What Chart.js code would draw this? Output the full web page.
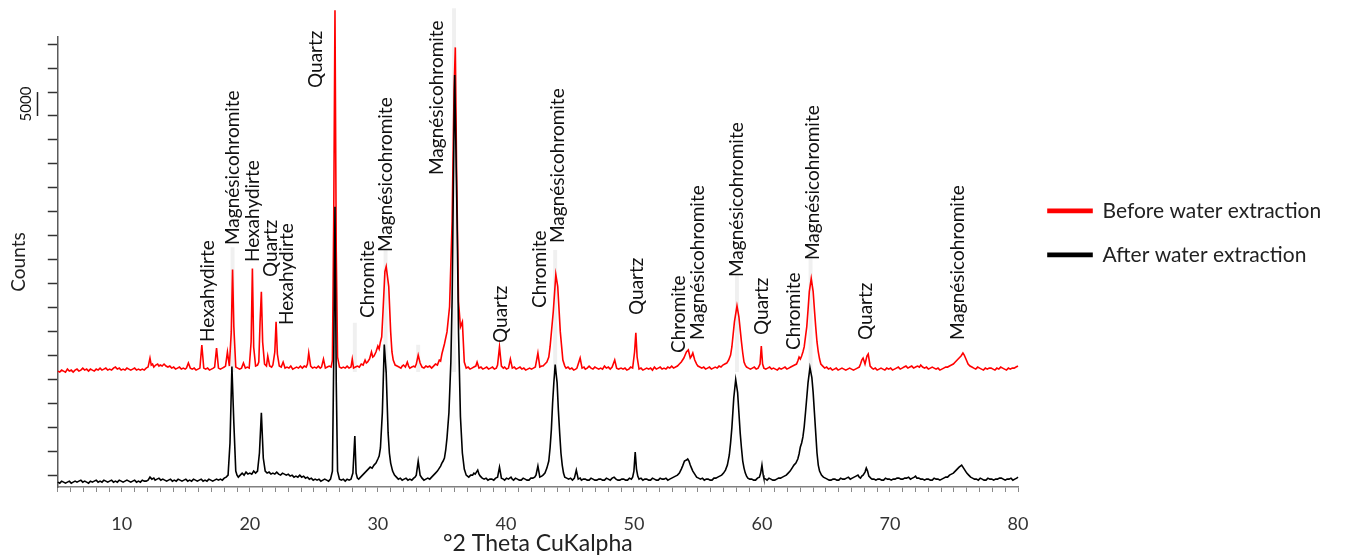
<!DOCTYPE html>
<html>
<head>
<meta charset="utf-8">
<script src="https://cdn.jsdelivr.net/npm/chart.js@4.4.1/dist/chart.umd.min.js"></script>
<style>
  html, body { margin: 0; padding: 0; background: #fff; }
  #wrap { width: 1347px; height: 560px; }
</style>
</head>
<body>
<div id="wrap"><canvas id="xrdChart"></canvas></div>
<script>
// scan data: [2theta, counts]
var beforeScan = [
  [5.0,1210],[5.15,1000],[5.3,1420],[5.45,1210],[5.6,1000],[5.75,1630],[5.9,1210],[6.05,1420],[6.2,1000],[6.35,1420],
  [6.5,1630],[6.65,1210],[6.8,1420],[6.95,1840],[7.1,1420],[7.25,1630],[7.4,1210],[7.55,1630],[7.7,1420],[7.85,1210],
  [8.0,1630],[8.15,1420],[8.3,1840],[8.45,1420],[8.6,1630],[8.75,1840],[8.9,1420],[9.05,1630],[9.2,1420],[9.35,1840],
  [9.5,2050],[9.65,1630],[9.8,1840],[9.95,1420],[10.1,1630],[10.25,1420],[10.4,1840],[10.55,1630],[10.7,1420],[10.85,1630],
  [11.0,1840],[11.15,1420],[11.3,1630],[11.45,1420],[11.6,1630],[11.75,1420],[11.9,1840],[12.05,2050],[12.2,3940],[12.3,2470],
  [12.4,2680],[12.5,2050],[12.65,2470],[12.8,2680],[12.9,2260],[13.0,2470],[13.15,2260],[13.3,2680],[13.45,2260],[13.6,2050],
  [13.75,2260],[13.9,1840],[14.05,2050],[14.2,1630],[14.35,1840],[14.5,2050],[14.65,1630],[14.8,1840],[14.95,1630],[15.05,1840],
  [15.2,2890],[15.35,1840],[15.5,1630],[15.65,1840],[15.8,1420],[15.95,1630],[16.1,1840],[16.25,6670],[16.4,1840],[16.55,1630],
  [16.7,1840],[16.85,1420],[17.0,1630],[17.15,1840],[17.25,2050],[17.4,6040],[17.55,1840],[17.7,1630],[17.85,1840],[18.0,2050],
  [18.1,2260],[18.25,5200],[18.4,2260],[18.55,9400],[18.65,22420],[18.75,10450],[18.9,2050],[19.05,1840],[19.2,1630],[19.35,1840],
  [19.5,2890],[19.65,1840],[19.8,2050],[19.95,1840],[20.1,7300],[20.2,22630],[20.3,6250],[20.45,2260],[20.6,2470],[20.7,3100],
  [20.8,11500],[20.9,17800],[21.0,7300],[21.15,2680],[21.3,2260],[21.4,4360],[21.55,2260],[21.7,2050],[21.8,2470],[21.95,5200],
  [22.05,11500],[22.15,4780],[22.3,2260],[22.45,2050],[22.6,3100],[22.75,1840],[22.9,2050],[23.05,1840],[23.2,2260],[23.35,1630],
  [23.5,1840],[23.65,2050],[23.8,1840],[23.95,2260],[24.1,1840],[24.25,2260],[24.4,2050],[24.5,2680],[24.6,4990],[24.75,2260],
  [24.9,1840],[25.05,2050],[25.2,1840],[25.35,2260],[25.5,1840],[25.6,2050],[25.75,3730],[25.9,1840],[26.05,2050],[26.2,2260],
  [26.35,2050],[26.45,3520],[26.55,32500],[26.65,76600],[26.75,26200],[26.85,4150],[27.0,2050],[27.15,1840],[27.3,2050],[27.45,1840],
  [27.6,2260],[27.75,1840],[27.9,2050],[28.0,3730],[28.1,1840],[28.25,2050],[28.4,2260],[28.55,2050],[28.7,2680],[28.85,2470],
  [29.0,3520],[29.1,2890],[29.2,3100],[29.35,3730],[29.5,5200],[29.6,4150],[29.7,4360],[29.85,5200],[30.0,6460],[30.1,5830],
  [30.2,7300],[30.3,8350],[30.4,13600],[30.55,22000],[30.65,23050],[30.75,20950],[30.85,18850],[31.0,9400],[31.1,5200],[31.2,3520],
  [31.35,2470],[31.5,2260],[31.65,2050],[31.8,1840],[31.9,2260],[32.0,2470],[32.15,2050],[32.3,3100],[32.4,2260],[32.5,1840],
  [32.65,2050],[32.8,2260],[32.9,2050],[33.0,2680],[33.15,4570],[33.3,2890],[33.45,2050],[33.6,1840],[33.75,2260],[33.9,2050],
  [34.05,2260],[34.2,1840],[34.35,2260],[34.5,2680],[34.65,2470],[34.8,3520],[34.9,3310],[35.0,4780],[35.2,6880],[35.4,9400],
  [35.6,14650],[35.8,32500],[35.95,59800],[36.05,68830],[36.15,43000],[36.3,15700],[36.45,10450],[36.6,11500],[36.75,3100],[36.9,1840],
  [37.05,2050],[37.2,1630],[37.35,1840],[37.5,2050],[37.65,2260],[37.75,3100],[37.9,1840],[38.05,2050],[38.2,1630],[38.35,1840],
  [38.5,2050],[38.65,1630],[38.8,1840],[38.95,2050],[39.1,1630],[39.25,1840],[39.35,2470],[39.5,6250],[39.65,2260],[39.8,1840],
  [39.9,2050],[40.05,1630],[40.2,1840],[40.35,3730],[40.5,1840],[40.65,2050],[40.8,1630],[40.95,1840],[41.1,2050],[41.25,1630],
  [41.4,1840],[41.55,1420],[41.7,1630],[41.85,1840],[42.0,1630],[42.15,1840],[42.3,2050],[42.5,4990],[42.65,2050],[42.8,2260],
  [42.9,2260],[43.05,2680],[43.2,3100],[43.35,4150],[43.45,6250],[43.7,13600],[43.9,21370],[44.05,18850],[44.25,9400],[44.45,3520],
  [44.6,2260],[44.7,1840],[44.85,2050],[45.0,1630],[45.15,1840],[45.3,1420],[45.45,1630],[45.55,1840],[45.8,3940],[45.95,1840],
  [46.1,2050],[46.2,1630],[46.35,1840],[46.5,2260],[46.65,1840],[46.8,1630],[46.95,2050],[47.1,1840],[47.25,1630],[47.4,1840],
  [47.55,1630],[47.7,2260],[47.85,1840],[48.0,2050],[48.15,1630],[48.3,2050],[48.5,3520],[48.65,1840],[48.8,1630],[49.0,1840],
  [49.15,1630],[49.3,1840],[49.45,1420],[49.6,1630],[49.75,2050],[49.9,1840],[50.05,5200],[50.15,9190],[50.25,4150],[50.4,1630],
  [50.55,1840],[50.7,1420],[50.85,1630],[51.0,1840],[51.15,1630],[51.3,1840],[51.45,1420],[51.6,2050],[51.75,1630],[51.9,1840],
  [52.05,2050],[52.2,1630],[52.35,1840],[52.5,1630],[52.65,2050],[52.8,1840],[52.95,2260],[53.1,1840],[53.25,2050],[53.4,2260],
  [53.55,2680],[53.7,3100],[53.8,3520],[53.9,3940],[54.0,4570],[54.1,5200],[54.25,5620],[54.4,3940],[54.5,4360],[54.6,4990],
  [54.75,3520],[54.9,2680],[55.0,2260],[55.15,2050],[55.3,1840],[55.45,2050],[55.6,1630],[55.75,1840],[55.9,2050],[56.05,1630],
  [56.2,1840],[56.35,2050],[56.5,1840],[56.65,2260],[56.8,2050],[56.95,2470],[57.1,2680],[57.25,2890],[57.4,3520],[57.55,4570],
  [57.65,6250],[57.85,11500],[58.05,14860],[58.2,12550],[58.4,7300],[58.5,4990],[58.6,3100],[58.7,2470],[58.8,2050],[58.95,1840],
  [59.1,1630],[59.25,1840],[59.4,2050],[59.55,1630],[59.7,1840],[59.85,2680],[59.95,6460],[60.05,2680],[60.15,1840],[60.3,1630],
  [60.45,1840],[60.6,2050],[60.75,1630],[60.9,1840],[61.05,1630],[61.2,1420],[61.35,1840],[61.5,1630],[61.65,1840],[61.8,2050],
  [61.95,1630],[62.1,1840],[62.25,2050],[62.4,2260],[62.55,2470],[62.7,2680],[62.8,3310],[62.9,4150],[63.0,3730],[63.1,4360],
  [63.2,5200],[63.3,6250],[63.4,8350],[63.5,10450],[63.6,14000],[63.7,17800],[63.85,20530],[64.0,17800],[64.1,14000],[64.2,10450],
  [64.3,7300],[64.4,5200],[64.5,3730],[64.6,2680],[64.75,2260],[64.9,1840],[65.05,2050],[65.2,1630],[65.35,1840],[65.5,1420],
  [65.65,1630],[65.8,1840],[65.95,1420],[66.1,1630],[66.25,1840],[66.4,1630],[66.55,1420],[66.7,1630],[66.85,1840],[67.0,1630],
  [67.15,1420],[67.3,1630],[67.45,1840],[67.6,2050],[67.7,2680],[67.8,3520],[67.9,3940],[68.05,2680],[68.2,4360],[68.3,4780],
  [68.45,2260],[68.6,1840],[68.7,1630],[68.85,1840],[69.0,1420],[69.15,1630],[69.3,1840],[69.45,1630],[69.6,1420],[69.75,1840],
  [69.9,1630],[70.05,1840],[70.2,1420],[70.35,1630],[70.5,1840],[70.65,2050],[70.8,1630],[70.95,1840],[71.1,2050],[71.25,2260],
  [71.4,1840],[71.55,2050],[71.7,2260],[71.85,1840],[72.0,2050],[72.15,2260],[72.3,2050],[72.4,2470],[72.55,2050],[72.7,1840],
  [72.85,2050],[73.0,1630],[73.15,1840],[73.3,2050],[73.45,1840],[73.6,1630],[73.75,1840],[73.9,1420],[74.05,1630],[74.2,1840],
  [74.35,2050],[74.5,2050],[74.65,2260],[74.8,2470],[74.95,2680],[75.1,3100],[75.25,3520],[75.4,3940],[75.55,4360],[75.7,4990],
  [75.8,4570],[75.9,3940],[76.0,3310],[76.1,2680],[76.25,2260],[76.4,2050],[76.55,1840],[76.7,1630],[76.85,2050],[77.0,1840],
  [77.15,1630],[77.3,1420],[77.45,1840],[77.6,1630],[77.75,1840],[77.9,1840],[78.05,1630],[78.2,1420],[78.35,1840],[78.5,1630],
  [78.65,2050],[78.8,1840],[78.95,1630],[79.1,1420],[79.25,1840],[79.4,1630],[79.55,1840],[79.7,1840],[79.85,2050],[80.0,2260]
];

var afterScan = [
  [5.0,1010],[5.15,800],[5.3,1220],[5.45,1010],[5.6,800],[5.75,1010],[5.9,1220],[6.05,800],[6.2,1010],[6.35,1220],
  [6.5,1010],[6.65,1220],[6.8,1430],[6.95,1010],[7.1,1220],[7.25,1010],[7.4,800],[7.55,1220],[7.7,1010],[7.85,1220],
  [8.0,1430],[8.15,1010],[8.3,1220],[8.45,1010],[8.6,1430],[8.75,1220],[8.9,1010],[9.05,1220],[9.2,1430],[9.35,1010],
  [9.5,1220],[9.65,1010],[9.8,1430],[9.95,1220],[10.1,1010],[10.25,1220],[10.4,1430],[10.55,1220],[10.7,1010],[10.85,1220],
  [11.0,1430],[11.15,1010],[11.3,1220],[11.45,1010],[11.6,1430],[11.75,1220],[11.9,1220],[12.05,1430],[12.2,2060],[12.35,1640],
  [12.5,1850],[12.6,1430],[12.75,1640],[12.9,1850],[13.05,1430],[13.2,1640],[13.35,1430],[13.5,1220],[13.65,1430],[13.8,1640],
  [13.95,1220],[14.1,1430],[14.25,1220],[14.4,1640],[14.55,1430],[14.7,1220],[14.85,1430],[15.0,1640],[15.15,1220],[15.3,1430],
  [15.45,1220],[15.6,1640],[15.75,1430],[15.9,1220],[16.05,1430],[16.2,1640],[16.35,1220],[16.5,1430],[16.65,1220],[16.8,1640],
  [16.95,1430],[17.1,1220],[17.25,1430],[17.4,1640],[17.55,1430],[17.7,1640],[17.85,1430],[18.0,1850],[18.15,2060],[18.3,2480],
  [18.45,9200],[18.6,25160],[18.75,13400],[18.9,3320],[19.0,2480],[19.1,2060],[19.25,2480],[19.4,2900],[19.55,2480],[19.7,3110],
  [19.85,2690],[20.0,2900],[20.15,2690],[20.3,3320],[20.45,2900],[20.6,3320],[20.75,7100],[20.9,15500],[21.05,6050],[21.2,3320],
  [21.35,2900],[21.5,3110],[21.65,2690],[21.8,2900],[21.95,2690],[22.1,3110],[22.25,2690],[22.4,2480],[22.55,2900],[22.7,2690],
  [22.85,2480],[23.0,2690],[23.15,2270],[23.3,2480],[23.45,2060],[23.6,2270],[23.75,2060],[23.9,2480],[24.05,2060],[24.2,2270],
  [24.35,1850],[24.5,2060],[24.65,1640],[24.8,1850],[24.95,1430],[25.1,1640],[25.25,1430],[25.4,1640],[25.55,1220],[25.7,1430],
  [25.85,1640],[26.0,1430],[26.15,1220],[26.3,1640],[26.45,3320],[26.55,26000],[26.65,58550],[26.75,21800],[26.85,3320],[27.0,1640],
  [27.15,1430],[27.3,1640],[27.45,1220],[27.6,1640],[27.75,1430],[27.9,1640],[28.05,2900],[28.2,10670],[28.3,2900],[28.4,1850],
  [28.5,1640],[28.65,2060],[28.8,2480],[28.95,2900],[29.1,3320],[29.25,3740],[29.4,4160],[29.55,3950],[29.7,4580],[29.85,5000],
  [30.0,5840],[30.1,6470],[30.2,8150],[30.35,15500],[30.5,29780],[30.65,23900],[30.8,11300],[30.9,7100],[31.0,5000],[31.15,3320],
  [31.3,2480],[31.45,2060],[31.6,1640],[31.75,1850],[31.9,1430],[32.05,1640],[32.2,1850],[32.35,1430],[32.5,1640],[32.65,1430],
  [32.8,1850],[32.9,2060],[33.0,2480],[33.15,5420],[33.3,2480],[33.45,1850],[33.6,1430],[33.75,1640],[33.9,1850],[34.05,1640],
  [34.2,2060],[34.35,2480],[34.5,2900],[34.65,3320],[34.8,3950],[34.9,4370],[35.0,5000],[35.1,5420],[35.2,6050],[35.3,7730],
  [35.4,10250],[35.55,15500],[35.7,26000],[35.8,39230],[35.9,63800],[36.0,86060],[36.1,70100],[36.2,53300],[36.3,32300],[36.45,14660],
  [36.6,7100],[36.75,3740],[36.9,2480],[37.0,2270],[37.1,2060],[37.25,2480],[37.4,2480],[37.5,2900],[37.6,2690],[37.7,3110],
  [37.8,3530],[37.9,2690],[38.0,2270],[38.15,1850],[38.3,1640],[38.45,1850],[38.6,1430],[38.75,1640],[38.9,1640],[39.05,1430],
  [39.2,1850],[39.35,2060],[39.5,4160],[39.65,1850],[39.8,1640],[39.9,1430],[40.05,1850],[40.2,1640],[40.3,1850],[40.4,2060],
  [40.5,1640],[40.6,1430],[40.75,1850],[40.9,1640],[41.05,1430],[41.2,1430],[41.35,1850],[41.5,1640],[41.65,1430],[41.8,1430],
  [41.95,1850],[42.1,1850],[42.25,2060],[42.35,2480],[42.5,4370],[42.65,2060],[42.8,2270],[42.9,2480],[43.05,2900],[43.2,3950],
  [43.35,5420],[43.45,8150],[43.55,11930],[43.65,17600],[43.75,22000],[43.85,25580],[44.0,21800],[44.1,16000],[44.2,11300],[44.3,7100],
  [44.4,4580],[44.5,2900],[44.6,2060],[44.75,1850],[44.9,1640],[45.05,1850],[45.2,1430],[45.35,1850],[45.5,3530],[45.65,1640],
  [45.8,1850],[45.9,1430],[46.05,1640],[46.2,1640],[46.35,1430],[46.5,1430],[46.65,1850],[46.8,1640],[46.95,1430],[47.1,1430],
  [47.25,1640],[47.4,1640],[47.55,1430],[47.7,1430],[47.85,1850],[48.0,1640],[48.15,1430],[48.3,1850],[48.45,2060],[48.6,1640],
  [48.75,1430],[48.9,1430],[49.05,1640],[49.2,1640],[49.35,1430],[49.5,1430],[49.65,1850],[49.8,1640],[49.9,2060],[50.0,3320],
  [50.1,7310],[50.2,3740],[50.3,2270],[50.4,1640],[50.55,1850],[50.7,1430],[50.85,1640],[51.0,1640],[51.15,1430],[51.3,1430],
  [51.45,1850],[51.6,1640],[51.75,1430],[51.9,1430],[52.05,1850],[52.2,1640],[52.35,1640],[52.5,1850],[52.65,1430],[52.8,1640],
  [52.95,1850],[53.1,2060],[53.25,2270],[53.4,2480],[53.55,2900],[53.7,3740],[53.8,4370],[53.95,5420],[54.1,5630],[54.2,5840],
  [54.3,5420],[54.4,4580],[54.5,3950],[54.6,3320],[54.75,2690],[54.9,2060],[55.05,1850],[55.2,1640],[55.35,1850],[55.5,1430],
  [55.65,1640],[55.8,1640],[55.95,1430],[56.1,1430],[56.25,1850],[56.4,1850],[56.55,2060],[56.7,2270],[56.85,2480],[57.0,2900],
  [57.15,3530],[57.3,4580],[57.45,6680],[57.55,9200],[57.65,12350],[57.8,18650],[57.95,22430],[58.1,19700],[58.2,15500],[58.3,11300],
  [58.4,8150],[58.5,5420],[58.6,3950],[58.7,2900],[58.8,2270],[58.9,1850],[59.05,1640],[59.2,1640],[59.35,1430],[59.5,1430],
  [59.65,1850],[59.8,2060],[59.9,2900],[60.0,4580],[60.1,2480],[60.15,1850],[60.3,1640],[60.4,1430],[60.55,1850],[60.7,1640],
  [60.85,1430],[61.0,1430],[61.15,1640],[61.3,1850],[61.45,1850],[61.6,2060],[61.75,2270],[61.9,2480],[62.05,2900],[62.2,3320],
  [62.35,3950],[62.5,4580],[62.65,5000],[62.8,5840],[62.9,6890],[63.0,8360],[63.1,9200],[63.2,10460],[63.3,12560],[63.4,15500],
  [63.5,18650],[63.6,21800],[63.75,24950],[63.9,22850],[64.0,19700],[64.1,15500],[64.2,11300],[64.3,7100],[64.4,4580],[64.5,3320],
  [64.65,2480],[64.8,2060],[64.95,1850],[65.1,1640],[65.25,1430],[65.4,1430],[65.55,1640],[65.7,1640],[65.85,1430],[66.0,1430],
  [66.15,1850],[66.3,1640],[66.45,1640],[66.6,1850],[66.75,2060],[66.9,1640],[67.05,1850],[67.2,2060],[67.35,2270],[67.5,2480],
  [67.6,2060],[67.7,1850],[67.8,2270],[67.9,2480],[68.05,3110],[68.15,3950],[68.25,3320],[68.35,2270],[68.5,1850],[68.6,1640],
  [68.75,1640],[68.9,1430],[69.05,1640],[69.2,1640],[69.35,1430],[69.5,1430],[69.65,1850],[69.8,1640],[69.95,1640],[70.1,1430],
  [70.25,1640],[70.4,1640],[70.55,1850],[70.7,1850],[70.85,1640],[71.0,1640],[71.15,1850],[71.3,1850],[71.45,2060],[71.6,1640],
  [71.75,1850],[71.9,2060],[72.0,2270],[72.1,1850],[72.25,1850],[72.4,1640],[72.55,1640],[72.7,1430],[72.85,1640],[73.0,1640],
  [73.15,1430],[73.3,1430],[73.45,1850],[73.6,1640],[73.75,1640],[73.9,1430],[74.05,1640],[74.2,1850],[74.35,2060],[74.5,2060],
  [74.65,2480],[74.8,2690],[74.95,2900],[75.1,3320],[75.25,3740],[75.4,4160],[75.5,4370],[75.6,4580],[75.7,4160],[75.8,3740],
  [75.9,3320],[76.0,2900],[76.15,2480],[76.3,2060],[76.45,1850],[76.6,1640],[76.75,1640],[76.9,1430],[77.05,1850],[77.2,1640],
  [77.35,1430],[77.5,1430],[77.65,1850],[77.8,1640],[77.95,1640],[78.1,1430],[78.25,1640],[78.4,1640],[78.55,1850],[78.7,1850],
  [78.85,1640],[79.0,1430],[79.15,1640],[79.3,1640],[79.45,1850],[79.6,1430],[79.75,1640],[79.9,1850],[80.0,2060]
];

// stacking offset of the "before" pattern
var RED_OFFSET = 23000;

// phase labels
var peakNames = ["Hexahydirte", "Magnésicohromite", "Hexahydirte", "Quartz", "Hexahydirte", "Quartz", "Chromite",
  "Magnésicohromite", "Magnésicohromite", "Quartz", "Chromite", "Magnésicohromite", "Quartz", "Chromite",
  "Magnésicohromite", "Magnésicohromite", "Quartz", "Chromite", "Magnésicohromite", "Quartz", "Magnésicohromite"];
var peakTheta = [16.75, 18.7, 20.26, 21.63, 22.88, 25.18, 29.24, 30.6, 34.59, 39.58, 42.63, 44.03, 50.2, 53.48,
  54.96, 58.08, 59.96, 62.53, 63.94, 68.15, 75.34];
var labelBase = [30290, 50550, 47000, 43870, 33840, 83350, 35300, 49090, 65170, 30080, 37390, 50970, 35930, 27990,
  30710, 43870, 31750, 28620, 47420, 30710, 30710];

// faint reference markers
var refTheta = [18.65, 28.2, 30.6, 33.15, 35.95, 43.85, 58.05, 63.8];
var refTop = [50100, 34300, 49500, 29700, 100000, 49500, 44300, 49500];

var yTickValues = [2500, 7500, 12500, 17500, 22500, 27500, 32500, 37500, 42500, 47500, 52500,
  57500, 62500, 67500, 72500, 77500, 82500, 87500, 92500];
var xTickLabels = [10, 20, 30, 40, 50, 60, 70, 80];
var YMAX = 94000;

var beforeData = beforeScan.map(function (p) { return {x: p[0], y: p[1] + RED_OFFSET}; });
var afterData = afterScan.map(function (p) { return {x: p[0], y: p[1]}; });
var refData = [];
refTheta.forEach(function (t, i) {
  refData.push({x: t, y: 1000 + RED_OFFSET});
  refData.push({x: t, y: refTop[i]});
  refData.push({x: t, y: null});
});

var labelFont = "19px Lato";

var peakLabelPlugin = {
  id: 'peakLabels',
  afterLayout: function (chart) {
    // leave a small gap between the plot and the legend sample lines
    chart.legend.left += 7;
    chart.legend.right += 7;
  },
  afterDatasetsDraw: function (chart) {
    var ctx = chart.ctx;
    var xs = chart.scales.x, ys = chart.scales.y;
    ctx.save();
    ctx.fillStyle = '#111';
    ctx.font = labelFont;
    ctx.textAlign = 'left';
    ctx.textBaseline = 'middle';
    peakNames.forEach(function (name, i) {
      ctx.save();
      ctx.translate(xs.getPixelForValue(peakTheta[i]), ys.getPixelForValue(labelBase[i]));
      ctx.rotate(-Math.PI / 2);
      ctx.fillText(name, 0, 0);
      ctx.restore();
    });
    // 5000 counts scale bar
    var yA = ys.getPixelForValue(77500), yB = ys.getPixelForValue(82500);
    ctx.strokeStyle = '#222';
    ctx.lineWidth = 1.5;
    ctx.beginPath();
    ctx.moveTo(37.5, yA);
    ctx.lineTo(37.5, yB);
    ctx.stroke();
    ctx.save();
    ctx.translate(26, (yA + yB) / 2);
    ctx.rotate(-Math.PI / 2);
    ctx.textAlign = 'center';
    ctx.font = '15px Lato';
    ctx.fillText('5000', 0, 0);
    ctx.restore();
    ctx.restore();
  }
};

var ctx = document.getElementById('xrdChart');
var myChart = new Chart(ctx, {
  type: 'line',
  data: {
    datasets: [
      {
        label: 'Before water extraction',
        data: beforeData,
        borderColor: '#ff0000',
        backgroundColor: '#ff0000',
        borderWidth: 1.6,
        pointRadius: 0,
        tension: 0,
        fill: false,
        clip: false,
        order: 2
      },
      {
        label: 'After water extraction',
        data: afterData,
        borderColor: '#000000',
        backgroundColor: '#000000',
        borderWidth: 1.6,
        pointRadius: 0,
        tension: 0,
        fill: false,
        clip: false,
        order: 1
      },
      {
        label: 'ref',
        data: refData,
        borderColor: 'rgba(0,0,0,0.06)',
        borderWidth: 4,
        pointRadius: 0,
        spanGaps: false,
        fill: false,
        clip: false,
        order: 3
      }
    ]
  },
  options: {
    responsive: true,
    maintainAspectRatio: false,
    animation: false,
    layout: { padding: { top: 37, left: 7, right: 29, bottom: 3 } },
    plugins: {
      tooltip: { enabled: false },
      legend: {
        position: 'right',
        align: 'start',
        maxWidth: 300,
        title: { display: true, text: ' ', padding: { top: 126, bottom: 0 }, font: { size: 12 } },
        labels: {
          boxWidth: 44,
          boxHeight: 3,
          padding: 23,
          color: '#222',
          font: { family: 'Lato', size: 21 },
          filter: function (item) { return item.datasetIndex < 2; },
          sort: function (a, b) { return a.datasetIndex - b.datasetIndex; }
        }
      }
    },
    scales: {
      x: {
        type: 'linear',
        min: 5,
        max: 80,
        afterFit: function (s) { s.height = 70; },
        ticks: {
          stepSize: 1,
          autoSkip: false,
          maxRotation: 0,
          padding: 21,
          color: '#333',
          font: { family: 'Lato', size: 18 },
          callback: function (v) { return xTickLabels.indexOf(v) >= 0 ? String(v) : ''; }
        },
        grid: { drawOnChartArea: false, drawTicks: true, tickLength: 5, tickColor: '#888', tickWidth: 1 },
        border: { color: '#808080', width: 1.5 },
        title: { display: true, text: '°2 Theta CuKalpha', color: '#222', font: { family: 'Lato', size: 23 }, padding: { top: 0, bottom: 0 } }
      },
      y: {
        type: 'linear',
        min: 0,
        max: YMAX,
        afterBuildTicks: function (s) { s.ticks = yTickValues.map(function (v) { return {value: v}; }); },
        ticks: { display: false },
        grid: { drawOnChartArea: false, drawTicks: true, tickLength: 10, tickColor: '#333', tickWidth: 1.5 },
        border: { color: '#5a5a5a', width: 1.5 },
        title: { display: true, text: 'Counts', color: '#222', font: { family: 'Lato', size: 19 }, padding: { top: 0, bottom: 18 } }
      }
    }
  },
  plugins: [peakLabelPlugin]
});
</script>
</body>
</html>
